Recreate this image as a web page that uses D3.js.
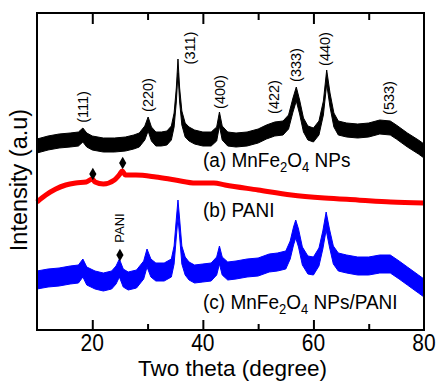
<!DOCTYPE html>
<html>
<head>
<meta charset="utf-8">
<script src="https://cdn.jsdelivr.net/npm/d3@7"></script>
<style>
  body { margin: 0; background: #fff; }
  svg { font-family: Arial, 'Liberation Sans', sans-serif; }
</style>
</head>
<body>
<div id="chart"></div>
<script>
// two theta (degree) vs intensity (a.u., stacked offsets as plotted)
const nanoTheta = [10, 12, 14, 16, 17.5, 18.3, 19, 20, 22, 24, 26, 27.5, 28.5, 29.5, 30.1, 30.7,
  31.5, 32.5, 33.5, 34.3, 34.8, 35.2, 35.5, 35.8, 36.2, 36.8, 37.5, 38.5, 40, 41.5, 42.5, 43,
  43.5, 44.5, 46, 48, 50, 51.5, 53, 54.5, 55.5, 56.3, 56.9, 57.5, 58.2, 59, 60, 61, 61.8, 62.4,
  63, 63.7, 64.5, 66, 68, 70, 72, 73.9, 75, 77, 79, 80];
const nanoInt = [184, 187, 189, 190, 191, 195, 190, 187, 185, 185, 186, 188, 190, 197, 206, 196,
  191, 191, 192, 197, 210, 235, 264, 235, 212, 200, 196, 193, 191, 191, 196, 211,
  197, 191, 190, 191, 194, 198, 201, 202, 208, 225, 236, 223, 205, 197, 195, 202, 222, 253,
  230, 210, 202, 200, 199, 200, 203, 202, 198, 190, 183, 179];

const paniTheta = [10, 11.6, 13.4, 15.2, 17, 18.9, 20, 20.5, 22, 24, 25, 25.4, 26, 27.9, 31.5,
  35, 38.7, 41, 42, 44, 50, 56, 62, 68, 74, 80];
const paniInt = [128, 135, 141, 145, 147, 148, 151, 148, 146, 150, 156, 159, 155, 155, 153,
  150, 147, 147, 147, 145, 140, 135, 132, 130, 128, 127];

const compTheta = [10, 12, 14, 16, 17.5, 18.3, 19, 20.5, 22, 23.5, 24.3, 24.9, 25.6, 26.5, 28,
  29.3, 29.9, 30.6, 31.5, 33, 34.3, 34.8, 35.2, 35.5, 35.8, 36.2, 36.8, 37.5, 38.5, 40, 41.5,
  42.5, 43, 43.5, 44.5, 46, 48, 50, 52, 53.5, 55, 55.8, 56.4, 56.8, 57.3, 58, 59, 60, 61, 61.7,
  62.3, 62.9, 63.6, 64.5, 66, 68, 70, 72, 73.9, 75.5, 77, 79, 80];
const compInt = [50, 52, 53, 55, 56, 62, 54, 50, 48, 50, 55, 62, 52, 49, 51,
  60, 72, 62, 58, 58, 62, 75, 102, 121, 102, 75, 64, 59, 56, 57, 58,
  64, 75, 64, 59, 60, 62, 63, 67, 68, 70, 80, 94, 101, 92, 74, 65, 64, 73, 90,
  109, 92, 75, 68, 66, 64, 64, 66, 66, 60, 54, 46, 42];

// noise band half-height of the measured patterns
const nanoNoise = 7;
const compNoise = 9;

const hklLabels = ['(111)', '(220)', '(311)', '(400)', '(422)', '(333)', '(440)', '(533)'];
const hklTheta = [18.3, 30.0, 37.7, 43.1, 52.8, 56.8, 62.1, 73.6];
const hklInt = [223, 235, 282, 238, 233, 265, 281, 232];

const paniMarkTheta = [20.1, 25.5];
const paniMarkInt = [156, 167];
const compMarkTheta = [25.0];
const compMarkInt = [75];

const majorTicks = [20, 40, 60];
const minorTicks = [30, 50, 70];
const tickLabels = [20, 40, 60, 80];

const width = 437;
const height = 381;
const margin = { left: 37, top: 13, right: 13, bottom: 51 };

const svg = d3.select('#chart').append('svg')
  .attr('width', width)
  .attr('height', height);

const x = d3.scaleLinear()
  .domain([10, 80])
  .range([margin.left, width - margin.right]);
const y = d3.scaleLinear()
  .domain([0, 317])
  .range([height - margin.bottom, margin.top]);

const zip = (a, b) => a.map((t, i) => [t, b[i]]);

const band = (noise) => d3.area()
  .x(d => x(d[0]))
  .y0(d => y(d[1] - noise))
  .y1(d => y(d[1] + noise));

// traces
svg.append('path')
  .datum(zip(nanoTheta, nanoInt))
  .attr('fill', '#000')
  .attr('stroke', '#000')
  .attr('stroke-width', 1)
  .attr('d', band(nanoNoise));

svg.append('path')
  .datum(zip(paniTheta, paniInt))
  .attr('fill', 'none')
  .attr('stroke', '#f00')
  .attr('stroke-width', 5)
  .attr('stroke-linejoin', 'round')
  .attr('d', d3.line().curve(d3.curveMonotoneX).x(d => x(d[0])).y(d => y(d[1])));

svg.append('path')
  .datum(zip(compTheta, compInt))
  .attr('fill', '#00f')
  .attr('stroke', '#00f')
  .attr('stroke-width', 1)
  .attr('d', band(compNoise));

// frame and ticks
svg.append('rect')
  .attr('x', x(10)).attr('y', y(317))
  .attr('width', x(80) - x(10)).attr('height', y(0) - y(317))
  .attr('fill', 'none').attr('stroke', '#000').attr('stroke-width', 2);

const tickAxis = (axis, vals, size, ypos) => {
  const g = svg.append('g')
    .attr('transform', `translate(0,${ypos})`)
    .call(axis(x).tickValues(vals).tickSize(size).tickSizeOuter(0).tickFormat(''));
  g.select('.domain').remove();
  g.selectAll('line').attr('stroke-width', 2);
};
tickAxis(d3.axisBottom, majorTicks, -10, y(0));
tickAxis(d3.axisBottom, minorTicks, -6, y(0));
tickAxis(d3.axisTop, majorTicks, -11, y(317));
tickAxis(d3.axisTop, minorTicks, -7, y(317));

// tick labels, drawn a bit tall like the original
svg.append('g').selectAll('text')
  .data(tickLabels)
  .join('text')
  .attr('transform', d => `translate(${x(d)},351) scale(1,1.15)`)
  .attr('text-anchor', 'middle')
  .attr('font-size', 21)
  .text(d => d);

// axis titles
svg.append('text')
  .attr('x', (x(10) + x(80)) / 2 + 2)
  .attr('y', 376)
  .attr('text-anchor', 'middle')
  .attr('font-size', 22.5)
  .text('Two theta (degree)');

svg.append('text')
  .attr('transform', `translate(27,180) rotate(-90)`)
  .attr('text-anchor', 'middle')
  .attr('font-size', 23.5)
  .text('Intensity (a.u)');

// reflection labels
svg.append('g').selectAll('text')
  .data(hklLabels)
  .join('text')
  .attr('transform', (d, i) => `translate(${x(hklTheta[i])},${y(hklInt[i])}) rotate(-90)`)
  .attr('text-anchor', 'middle')
  .attr('dominant-baseline', 'central')
  .attr('font-size', 14.5)
  .text(d => d);

// PANI markers
const diamond = d3.symbol().type(d3.symbolDiamond).size(45);
svg.append('g').selectAll('path')
  .data(zip(paniMarkTheta, paniMarkInt).concat(zip(compMarkTheta, compMarkInt)))
  .join('path')
  .attr('transform', d => `translate(${x(d[0])},${y(d[1])})`)
  .attr('d', diamond)
  .attr('fill', '#000');

svg.append('text')
  .attr('transform', `translate(${x(24.9)},${y(102)}) rotate(-90)`)
  .attr('text-anchor', 'middle')
  .attr('dominant-baseline', 'central')
  .attr('font-size', 13)
  .text('PANI');

// series labels
const seriesLabel = (ypos, parts) => {
  const t = svg.append('text')
    .attr('transform', `translate(203,${ypos}) scale(1,1.08)`)
    .attr('font-size', 19);
  parts.forEach(p => {
    const s = t.append('tspan').text(p[0]);
    if (p[1]) s.attr('font-size', 13).attr('baseline-shift', '-5');
  });
};
seriesLabel(167, [['(a) MnFe'], ['2', 1], ['O'], ['4', 1], [' NPs']]);
seriesLabel(217, [['(b) PANI']]);
seriesLabel(309, [['(c) MnFe'], ['2', 1], ['O'], ['4', 1], [' NPs/PANI']]);
</script>
</body>
</html>
